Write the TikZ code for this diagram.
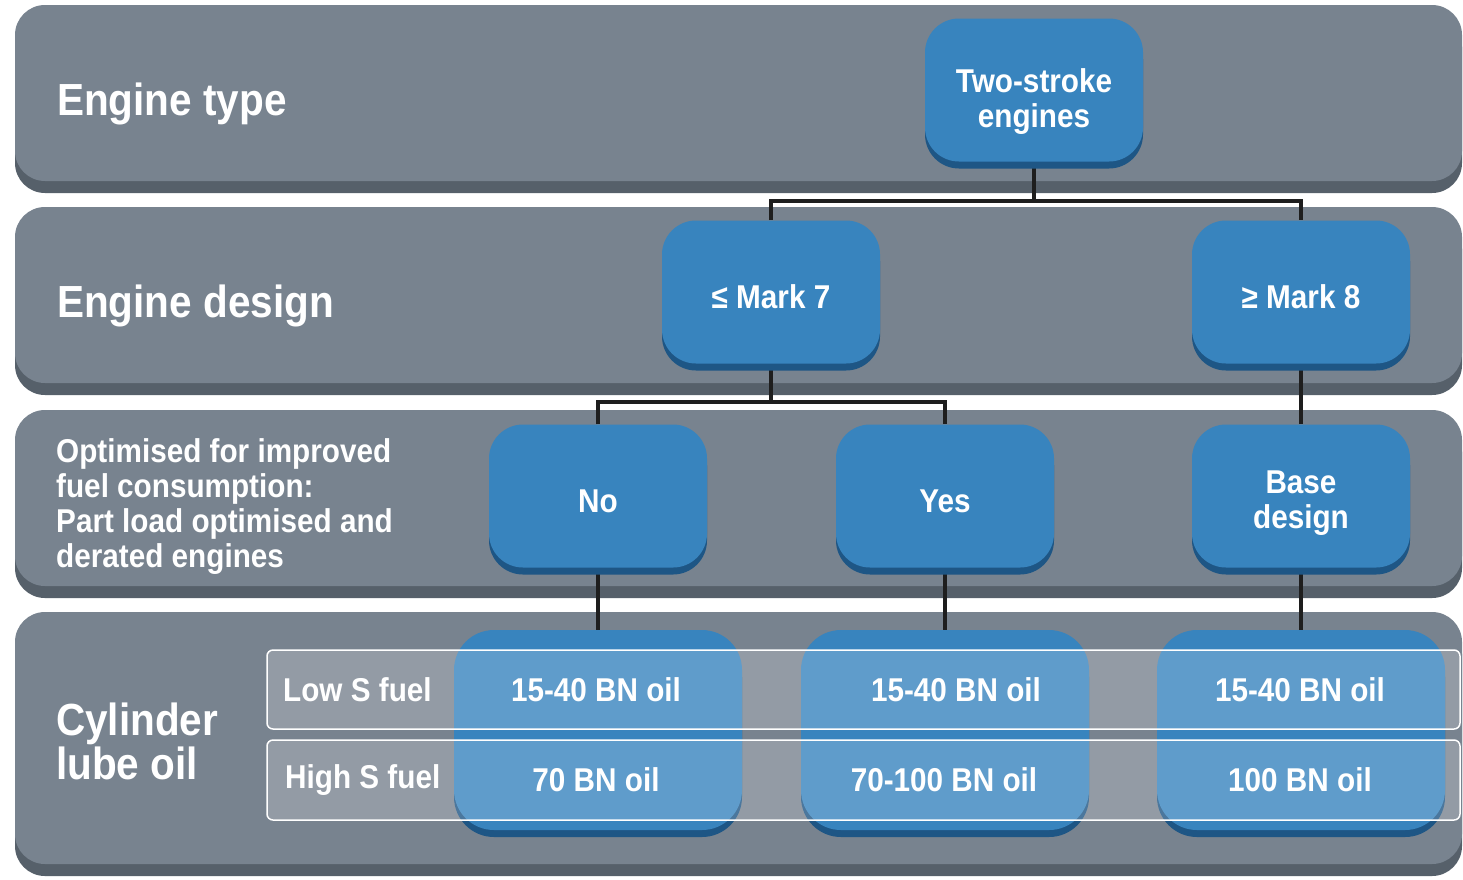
\documentclass[tikz,border=0pt]{standalone}
\usepackage{fontspec}
\setmainfont{Liberation Sans}[FakeStretch=0.9]
\usetikzlibrary{positioning,shadows}
\definecolor{bandgray}{RGB}{120,131,143}
\definecolor{banddark}{RGB}{86,96,106}
\definecolor{boxblue}{RGB}{56,132,190}
\definecolor{boxdark}{RGB}{30,86,133}
\definecolor{wire}{RGB}{30,30,30}
\pgfdeclarelayer{bands}
\pgfdeclarelayer{wires}
\pgfsetlayers{bands,wires,main}
\newcommand{\toppad}[1]{\rule{0pt}{#1}}
\tikzset{
  band/.style={fill=bandgray, rounded corners=30pt,
    drop shadow={shadow xshift=0pt, shadow yshift=-12pt, fill=banddark, opacity=1}},
  choice/.style={fill=boxblue, rounded corners=34pt, minimum width=218pt,
    minimum height=143pt, inner sep=0pt, align=center, text=white,
    font=\bfseries\fontsize{33}{35}\selectfont,
    drop shadow={shadow xshift=0pt, shadow yshift=-7pt, fill=boxdark, opacity=1}},
  oilbox/.style={fill=boxblue, rounded corners=40pt, minimum width=288pt,
    minimum height=200pt, inner sep=0pt,
    drop shadow={shadow xshift=0pt, shadow yshift=-7pt, fill=boxdark, opacity=1}},
  strip/.style={draw=white, line width=1.5pt, fill=white, fill opacity=0.2, rounded corners=6pt},
  rowname/.style={anchor=west, inner sep=0pt, text=white, align=left},
  biglabel/.style={rowname, font=\bfseries\fontsize{45}{44}\selectfont},
  smalllabel/.style={rowname, font=\bfseries\fontsize{33}{35}\selectfont},
  oiltext/.style={inner sep=0pt, text=white, font=\bfseries\fontsize{33}{35}\selectfont},
  link/.style={draw=wire, line width=3.5pt}
}
\begin{document}
\begin{tikzpicture}[x=1pt, y=-1pt]
\useasboundingbox (0,0) rectangle (1463,879);

% background bands
\begin{pgfonlayer}{bands}
\fill[white] (0,0) rectangle (1463,879);
\fill[band] (15,5) rectangle (1462,181);
\fill[band] (15,207) rectangle (1462,383);
\fill[band] (15,410) rectangle (1462,586);
\fill[band] (15,612) rectangle (1462,864);
\end{pgfonlayer}

% row labels
\node[biglabel] (typelbl) at (57,104) {Engine type};
\node[biglabel] (designlbl) at (57,306) {Engine design};
\node[smalllabel] (optlbl) at (56,507) {Optimised for improved\\fuel consumption:\\Part load optimised and\\derated engines};
\node[biglabel] (oillbl) at (56,741) {Cylinder\\lube oil};

% decision boxes
\node[choice] (two) at (1034,90) {\toppad{46pt}Two-stroke\\engines};
\node[choice] (mark7) at (771,292) {\toppad{34pt}≤ Mark 7};
\node[choice] (mark8) at (1301,292) {\toppad{34pt}≥ Mark 8};
\node[choice] (no) at (598,496) {\toppad{34pt}No};
\node[choice] (yes) at (945,496) {\toppad{34pt}Yes};
\node[choice] (base) at (1301,496) {\toppad{36pt}Base\\design};
\node[oilbox] (oilno) at (598,730) {};
\node[oilbox] (oilyes) at (945,730) {};
\node[oilbox] (oilbase) at (1301,730) {};

% fuel rows
\draw[strip] (267,650) rectangle (1460,729);
\draw[strip] (267,740) rectangle (1460,820);
\node[smalllabel] (lows) at (283,690) {Low S fuel};
\node[smalllabel] (highs) at (285,780) {High S fuel};
\node[oiltext] at (596,690) {15-40 BN oil};
\node[oiltext] at (596,780) {70 BN oil};
\node[oiltext] at (956,690) {15-40 BN oil};
\node[oiltext] at (944,780) {70-100 BN oil};
\node[oiltext] at (1300,690) {15-40 BN oil};
\node[oiltext] at (1300,780) {100 BN oil};

% connectors
\coordinate (split1) at (1034,201);
\coordinate (split2) at (771,402);
\begin{pgfonlayer}{wires}
\draw[link] (two.south) -- (split1);
\draw[link] (mark7.north) |- (split1) -| (mark8.north);
\draw[link] (mark7.south) -- (split2);
\draw[link] (no.north) |- (split2) -| (yes.north);
\draw[link] (mark8.south) -- (base.north);
\draw[link] (no.south) -- (oilno.north);
\draw[link] (yes.south) -- (oilyes.north);
\draw[link] (base.south) -- (oilbase.north);
\end{pgfonlayer}
\end{tikzpicture}
\end{document}
